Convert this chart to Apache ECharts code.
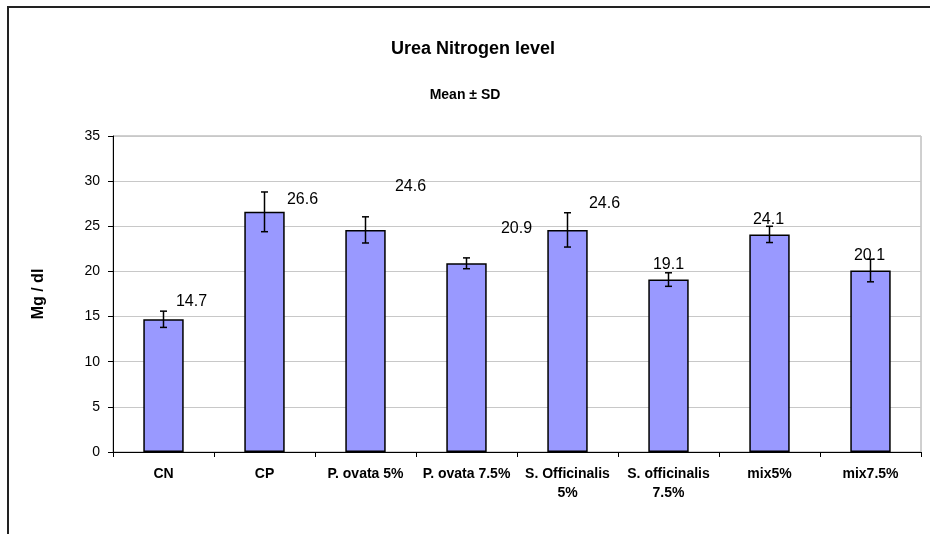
<!DOCTYPE html>
<html>
<head>
<meta charset="utf-8">
<script src="https://cdn.jsdelivr.net/npm/echarts@6/dist/echarts.min.js"></script>
<style>html,body{margin:0;padding:0;background:#fff}#c{width:930px;height:534px}</style>
</head>
<body>
<div id="c"></div>
<script>
var categories = ['CN', 'CP', 'P. ovata 5%', 'P. ovata 7.5%', 'S. Officinalis\n5%', 'S. officinalis\n7.5%', 'mix5%', 'mix7.5%'];
var means = [14.7, 26.6, 24.6, 20.9, 24.6, 19.1, 24.1, 20.1];
var sds = [0.9, 2.2, 1.45, 0.6, 1.9, 0.75, 0.9, 1.25];
var yTicks = [0, 5, 10, 15, 20, 25, 30, 35];
// label placement offsets (pixels) as in the original figure
var labelOffsets = [[28, -5], [38, 1], [45, -30], [50, -22], [37, -13], [0, -2], [-1, -2], [-1, -2]];

var font = 'Liberation Sans, Arial, sans-serif';
var chart = echarts.init(document.getElementById('c'));

var barData = means.map(function (v, i) {
  return {
    value: v,
    label: { offset: labelOffsets[i] }
  };
});
var errData = means.map(function (v, i) { return [i, v - sds[i], v + sds[i]]; });

chart.setOption({
  animation: false,
  title: [
    { text: 'Urea Nitrogen level', left: 468, top: 35, textAlign: 'center',
      textStyle: { fontFamily: font, fontSize: 18, fontWeight: 'bold', color: '#000' } },
    { text: 'Mean ± SD', left: 460, top: 83, textAlign: 'center',
      textStyle: { fontFamily: font, fontSize: 14, fontWeight: 'bold', color: '#000' } }
  ],
  grid: { left: 113, right: 9, top: 136, bottom: 82, show: true, borderColor: '#a0a0a0', borderWidth: 1 },
  xAxis: {
    type: 'category',
    data: categories,
    axisLine: { lineStyle: { color: '#000', width: 1 } },
    axisTick: { show: true, length: 5, lineStyle: { color: '#000' } },
    axisLabel: { fontFamily: font, fontSize: 14, fontWeight: 'bold', color: '#000', margin: 13, lineHeight: 19, interval: 0 }
  },
  yAxis: {
    type: 'value',
    min: 0, max: 35, interval: 5,
    name: 'Mg / dl',
    nameLocation: 'middle',
    nameGap: 66,
    nameTextStyle: { fontFamily: font, fontSize: 16, fontWeight: 'bold', color: '#000' },
    axisLine: { show: true, lineStyle: { color: '#000' } },
    axisTick: { show: true, length: 5, inside: false, lineStyle: { color: '#000' } },
    axisLabel: { fontFamily: font, fontSize: 14, color: '#000', margin: 13,
      formatter: function (v) { return yTicks.indexOf(v) >= 0 ? String(v) : ''; } },
    splitLine: { show: true, lineStyle: { color: '#c8c8c8', width: 1 } }
  },
  series: [
    {
      type: 'bar',
      data: barData,
      barWidth: '40%',
      itemStyle: { color: '#9999FF', borderColor: '#000', borderWidth: 1.5 },
      label: { show: true, position: 'top', fontFamily: font, fontSize: 16, color: '#000',
        formatter: function (p) { return p.value.toFixed(1); } },
      z: 2
    },
    {
      type: 'custom',
      data: errData,
      z: 3,
      renderItem: function (params, api) {
        var x = api.value(0);
        var lo = api.coord([x, api.value(1)]);
        var hi = api.coord([x, api.value(2)]);
        var w = 3.5;
        var st = { stroke: '#000', lineWidth: 1.5 };
        return {
          type: 'group',
          children: [
            { type: 'line', shape: { x1: lo[0], y1: lo[1], x2: hi[0], y2: hi[1] }, style: st },
            { type: 'line', shape: { x1: lo[0] - w, y1: lo[1], x2: lo[0] + w, y2: lo[1] }, style: st },
            { type: 'line', shape: { x1: hi[0] - w, y1: hi[1], x2: hi[0] + w, y2: hi[1] }, style: st }
          ]
        };
      }
    }
  ],
  graphic: [
    { type: 'polyline', shape: { points: [[8, 534], [8, 7], [930, 7]] },
      style: { stroke: '#222', lineWidth: 2, fill: null } }
  ]
});
</script>
</body>
</html>
